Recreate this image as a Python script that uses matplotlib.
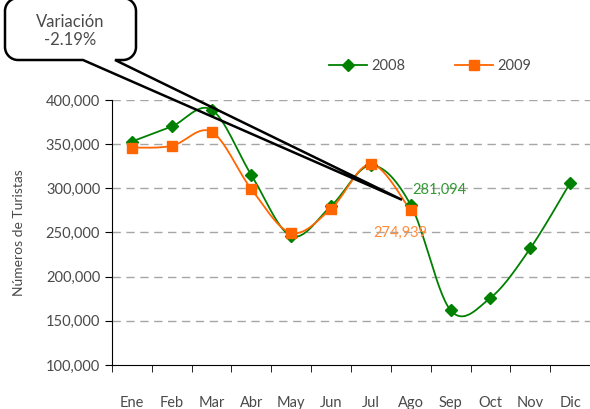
import numpy as np
import matplotlib
matplotlib.use("Agg")
import matplotlib.pyplot as plt
from matplotlib.path import Path
from matplotlib.patches import PathPatch
from matplotlib.ticker import FuncFormatter, FixedLocator

plt.rcParams['font.family'] = ['Lato', 'DejaVu Sans']

months = ["Ene", "Feb", "Mar", "Abr", "May", "Jun", "Jul", "Ago", "Sep", "Oct", "Nov", "Dic"]
v2008 = [353000, 370000, 389000, 315000, 246000, 280000, 326000, 281094, 162000, 176000, 232000, 306000]
v2009 = [346000, 348000, 364000, 299000, 249500, 277000, 327500, 274939]
variacion = v2009[7] / v2008[7] - 1

GREEN = "#008000"
ORANGE = "#ff6600"
GREY = "#4a4a4a"


def smooth(y, n=30):
    """Excel-like smoothed line: cubic Bezier through points, tangents from neighbours."""
    x = np.arange(len(y), dtype=float)
    p = np.column_stack([x, np.asarray(y, float)])
    out = []
    for i in range(len(p) - 1):
        p0 = p[max(i - 1, 0)]; p1 = p[i]; p2 = p[i + 1]; p3 = p[min(i + 2, len(p) - 1)]
        c1 = p1 + (p2 - p0) / 6
        c2 = p2 - (p3 - p1) / 6
        t = np.linspace(0, 1, n)[:, None]
        seg = (1 - t) ** 3 * p1 + 3 * (1 - t) ** 2 * t * c1 + 3 * (1 - t) * t ** 2 * c2 + t ** 3 * p2
        out.append(seg if i == 0 else seg[1:])
    s = np.vstack(out)
    return s[:, 0], s[:, 1]


W, H = 590, 409
fig = plt.figure(figsize=(W / 100, H / 100), dpi=100)
ax = fig.add_axes([112 / W, 1 - 365 / H, (590 - 112) / W, 265 / H])

for vals, col, mk, ms, lab in [(v2008, GREEN, "D", 6, "2008"), (v2009, ORANGE, "s", 7, "2009")]:
    sx, sy = smooth(vals)
    ax.plot(sx, sy, color=col, lw=1.3, zorder=3)
    ax.plot(range(len(vals)), vals, ls="none", marker=mk, ms=ms, color=col, zorder=4)
    ax.plot([], [], color=col, lw=1.3, marker=mk, ms=ms, label=lab)

ax.set_xlim(-0.5, 11.5)
ax.set_ylim(100000, 400000)
ax.set_yticks(range(100000, 400001, 50000))
ax.yaxis.set_major_formatter(FuncFormatter(lambda v, _: f"{int(v):,}"))
ax.set_xticks(range(12))
ax.set_xticklabels(months)
ax.xaxis.set_minor_locator(FixedLocator(np.arange(-0.5, 12, 1)))
ax.tick_params(axis="x", which="major", length=0, pad=22, labelsize=10.5, labelcolor=GREY)
ax.tick_params(axis="x", which="minor", length=5, direction="out", color="black")
ax.tick_params(axis="y", length=5, direction="out", labelsize=10.5, labelcolor=GREY)
for y in range(150000, 400001, 50000):
    ax.axhline(y, color="#a6a6a6", lw=1, ls=(0, (6, 4)), zorder=1)
for s in ["top", "right"]:
    ax.spines[s].set_visible(False)
ax.spines["left"].set_color("black")
ax.spines["bottom"].set_color("black")
ax.set_ylabel("Números de Turistas", fontsize=10, color=GREY, labelpad=15)

ax.text(7.03, v2008[7] + 17000, f"{v2008[7]:,}", color="#339933", fontsize=10.5, ha="left", va="center")
ax.text(6.75, v2009[7] - 25000, f"{v2009[7]:,}", color="#ff8c3a", fontsize=10.5, ha="center", va="center")

ax.legend(loc="center", bbox_to_anchor=(430 / W, 1 - 66 / H), bbox_transform=fig.transFigure,
          ncol=2, frameon=False, fontsize=10.5, handlelength=2.6, columnspacing=3.4,
          labelcolor=GREY, handletextpad=0.3)

# callout box with pointer (figure pixel coords, y from top)
tip = ax.transData.transform((6.78, 287000))
tx, ty = tip[0], H - tip[1]
L, R, T, B, r = 5, 136, -2, 60, 13
k = 0.55 * r
pts = [
    (L + r, T), (R - r, T),
    (R - r + k, T), (R, T + r - k), (R, T + r),
    (R, B - r),
    (R, B - r + k), (R - r + k, B), (R - r, B),
    (115, B), (tx, ty), (83, B),
    (L + r, B),
    (L + r - k, B), (L, B - r + k), (L, B - r),
    (L, T + r),
    (L, T + r - k), (L + r - k, T), (L + r, T),
]
codes = [Path.MOVETO, Path.LINETO,
         Path.CURVE4, Path.CURVE4, Path.CURVE4,
         Path.LINETO,
         Path.CURVE4, Path.CURVE4, Path.CURVE4,
         Path.LINETO, Path.LINETO, Path.LINETO,
         Path.LINETO,
         Path.CURVE4, Path.CURVE4, Path.CURVE4,
         Path.LINETO,
         Path.CURVE4, Path.CURVE4, Path.CURVE4]
verts = [(x / W, 1 - y / H) for x, y in pts]
fig.patches.append(PathPatch(Path(verts, codes), transform=fig.transFigure,
                             facecolor="none", edgecolor="black", lw=1.8, zorder=10))
fig.patches.append(PathPatch(Path([(L / W, 1 - T / H), (R / W, 1 - T / H), (R / W, 1 - B / H), (L / W, 1 - B / H)]),
                             transform=fig.transFigure, facecolor="white", edgecolor="none", zorder=-1))
fig.text((L + R) / 2 / W, 1 - 31 / H, f"Variación\n{variacion * 100:.2f}%", ha="center", va="center",
         fontsize=12, color=GREY, linespacing=1.15, zorder=11)

fig.savefig("out.png", dpi=100)
